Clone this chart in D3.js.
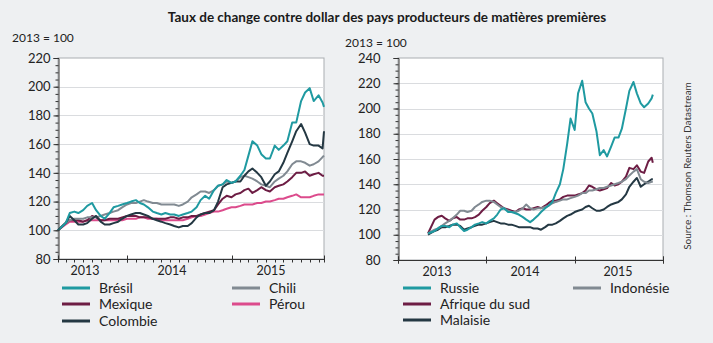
<!DOCTYPE html>
<html>
<head>
<meta charset="utf-8">
<script src="https://cdn.jsdelivr.net/npm/d3@7"></script>
<style>
  body { margin: 0; background: #eef0f2; }
  svg { display: block; font-family: Lato, "Open Sans", sans-serif; }
</style>
</head>
<body>
<svg id="vis" width="713" height="343"></svg>
<script>
// dates shared by both panels (roughly semi-monthly)
const dates = [
  "2013-05-05","2013-06-01","2013-06-15","2013-07-01","2013-07-15","2013-08-01","2013-08-15","2013-09-01","2013-09-15","2013-10-01","2013-10-15","2013-11-01","2013-11-15","2013-12-01","2013-12-15",
  "2014-01-01","2014-01-15","2014-02-01","2014-02-15","2014-03-01","2014-03-15","2014-04-01","2014-04-15","2014-05-01","2014-05-15","2014-06-01","2014-06-15","2014-07-01","2014-07-15","2014-08-01","2014-08-15","2014-09-01","2014-09-15","2014-10-01","2014-10-15","2014-11-01","2014-11-15","2014-12-01","2014-12-15",
  "2015-01-01","2015-01-15","2015-02-01","2015-02-15","2015-03-01","2015-03-15","2015-04-01","2015-04-15","2015-05-01","2015-05-15","2015-06-01","2015-06-15","2015-07-01","2015-07-15","2015-08-01","2015-08-15","2015-09-01","2015-09-15","2015-10-01","2015-10-15","2015-11-01","2015-11-15","2015-11-20"
];

// left panel
const bresil = [
  100,105,112,113,112,114,117,119,114,110,108,112,116,117,118,
  119,120,121,119,118,116,113,112,111,112,111,111,110,111,112,113,116,121,124,122,128,131,132,135,
  133,134,138,142,152,162,159,153,150,150,159,156,159,162,175,175,190,196,199,190,194,189,186
];
const chili = [
  100,105,107,108,108,108,109,109,109,110,111,112,113,114,116,
  118,119,119,120,121,120,119,119,118,118,118,118,117,118,120,123,125,127,127,126,128,131,132,134,
  133,134,137,138,137,136,134,132,131,130,134,136,138,141,146,148,148,147,145,146,148,151,152
];
const mexique = [
  100,105,107,107,107,106,107,110,109,107,107,108,108,108,109,
  110,110,110,109,109,109,108,108,108,108,109,109,108,109,109,110,110,111,112,113,114,118,122,124,
  123,125,126,128,129,126,128,130,128,127,130,131,132,134,137,140,140,141,138,139,140,138,138
];
const perou = [
  100,104,106,106,106,106,107,107,107,107,107,107,107,107,107,
  108,108,108,109,109,108,108,108,107,107,107,107,107,107,108,109,110,110,111,112,113,113,114,115,
  116,116,117,118,118,118,119,119,120,120,121,122,122,123,124,125,123,123,123,124,125,125,125
];
const colombie = [
  100,105,110,107,104,104,105,108,110,106,104,104,105,106,108,
  110,111,112,112,111,110,108,107,106,105,104,103,102,103,103,105,109,111,112,112,114,120,130,132,
  133,134,134,138,141,143,140,137,131,134,139,141,147,154,162,169,174,168,160,159,159,157,169
];

// right panel
const russie = [
  101,103,105,107,107,106,108,109,106,103,104,106,108,109,110,
  109,111,113,116,120,121,118,118,117,116,114,112,110,112,115,118,121,123,126,133,140,152,172,192,
  183,212,222,205,200,196,182,163,167,162,170,177,177,184,200,214,221,212,204,201,204,208,211
];
const indonesie = [
  101,104,105,107,109,111,113,116,119,119,118,119,122,124,126,
  127,127,126,124,122,121,119,118,118,119,121,124,121,120,121,121,122,123,125,126,127,128,128,129,
  130,131,133,133,135,135,136,137,137,138,139,140,141,142,144,147,150,152,144,142,141,142,142
];
const afriqueDuSud = [
  101,112,114,115,113,111,113,114,112,112,113,113,114,116,119,
  122,125,127,125,123,121,120,119,118,120,121,120,120,121,122,121,123,125,127,127,128,130,131,131,
  131,132,133,135,139,138,136,135,136,137,141,139,140,142,146,153,152,155,150,149,158,161,157
];
const malaisie = [
  100,103,104,106,106,107,108,108,107,104,105,106,107,108,108,
  109,110,111,110,109,109,108,108,107,106,106,106,106,105,105,104,106,108,108,109,111,113,115,116,
  118,119,120,122,123,121,119,119,120,122,124,125,126,128,132,138,142,145,138,140,142,144,144
];

const yearLabels = ["2013", "2014", "2015"];

const colors = {
  teal: "#1f9aa1",
  maroon: "#6d1d44",
  dark: "#243843",
  grey: "#818a92",
  pink: "#dc4b8c"
};

const parse = d3.timeParse("%Y-%m-%d");
const time = dates.map(parse);

const svg = d3.select("#vis");

svg.append("text")
  .attr("x", 387).attr("y", 22)
  .attr("text-anchor", "middle")
  .attr("font-size", 13.5).attr("font-weight", "bold")
  .attr("fill", "#1a1a1a")
  .text("Taux de change contre dollar des pays producteurs de matières premières");

function panel(opt) {
  const g = svg.append("g");

  const x = d3.scaleTime().domain(opt.xDomain).range([opt.left, opt.right]);
  const y = d3.scaleLinear().domain(opt.yDomain).range([opt.bottom, opt.top]);

  // plot background + frame
  g.append("rect")
    .attr("x", opt.left).attr("y", opt.top)
    .attr("width", opt.right - opt.left).attr("height", opt.bottom - opt.top)
    .attr("fill", "#fff").attr("stroke", "#a9adb1").attr("stroke-width", 1);

  // grid
  const gridVals = d3.range(opt.yDomain[0] + 20, opt.yDomain[1], 20);
  g.selectAll(".grid")
    .data(gridVals)
    .join("line")
    .attr("x1", opt.left).attr("x2", opt.right)
    .attr("y1", d => Math.round(y(d)) + 0.5).attr("y2", d => Math.round(y(d)) + 0.5)
    .attr("stroke", "#dadcdf").attr("stroke-width", 1);

  // series
  const line = d3.line()
    .x((d, i) => x(time[i]))
    .y(d => y(d));

  opt.series.forEach(s => {
    g.append("path")
      .datum(s.values)
      .attr("fill", "none")
      .attr("stroke", s.color)
      .attr("stroke-width", 2)
      .attr("stroke-linejoin", "round")
      .attr("d", line);
  });

  // y axis with minor ticks
  const yMinor = d3.axisLeft(y).tickValues(d3.range(opt.yDomain[0], opt.yDomain[1] + 1, 5))
    .tickSize(3).tickFormat("");
  g.append("g").attr("transform", `translate(${opt.left + 0.5},0)`).call(yMinor)
    .call(a => a.select(".domain").remove())
    .selectAll("line").attr("stroke", "#333");

  const yAxis = d3.axisLeft(y).tickValues(d3.range(opt.yDomain[0], opt.yDomain[1] + 1, 20))
    .tickSize(5).tickPadding(opt.pad);
  const ya = g.append("g").attr("transform", `translate(${opt.left + 0.5},0)`).call(yAxis);
  ya.select(".domain").attr("stroke", "#333");
  ya.selectAll("line").attr("stroke", "#333");
  ya.selectAll("text").attr("font-size", 13).attr("fill", "#222").attr("font-family", "Lato, sans-serif");

  // x axis
  const years = [parse("2013-01-01"), parse("2014-01-01"), parse("2015-01-01"), parse("2016-01-01")]
    .filter(d => d >= opt.xDomain[0] && d <= opt.xDomain[1]);
  const xa = g.append("g").attr("transform", `translate(0,${opt.bottom + 0.5})`);
  xa.append("line").attr("x1", opt.left).attr("x2", opt.right).attr("stroke", "#333");
  if (opt.monthly) {
    const months = d3.timeMonth.range(opt.xDomain[0], opt.xDomain[1]);
    xa.selectAll(".mt").data(months).join("line")
      .attr("x1", d => Math.round(x(d)) + 0.5).attr("x2", d => Math.round(x(d)) + 0.5)
      .attr("y1", 0).attr("y2", 3).attr("stroke", "#333");
  }
  xa.selectAll(".yt").data(years.concat([opt.xDomain[0], opt.xDomain[1]])).join("line")
    .attr("x1", d => Math.round(x(d)) + 0.5).attr("x2", d => Math.round(x(d)) + 0.5)
    .attr("y1", -4).attr("y2", 3).attr("stroke", "#333");

  xa.selectAll(".yl").data(yearLabels).join("text")
    .attr("x", (d, i) => opt.labelX[i])
    .attr("y", 15.5)
    .attr("text-anchor", "middle")
    .attr("font-size", 12.5).attr("fill", "#222")
    .text(d => d);

  // base label
  svg.append("text")
    .attr("x", opt.baseX).attr("y", opt.baseY)
    .attr("font-size", 12).attr("fill", "#222")
    .text("2013 = 100");

  // legend
  opt.legend.forEach(l => {
    svg.append("line")
      .attr("x1", l.x).attr("x2", l.x + 28)
      .attr("y1", l.y).attr("y2", l.y)
      .attr("stroke", l.color).attr("stroke-width", 3);
    svg.append("text")
      .attr("x", l.x + 37).attr("y", l.y + 5)
      .attr("font-size", 14).attr("fill", "#222")
      .text(l.name);
  });
}

panel({
  left: 58, right: 324, top: 58, bottom: 259,
  xDomain: [parse("2013-05-05"), parse("2015-11-20")],
  yDomain: [80, 220],
  monthly: true,
  pad: 3,
  labelX: [85, 172, 271],
  baseX: 12, baseY: 42,
  series: [
    { values: perou, color: colors.pink },
    { values: mexique, color: colors.maroon },
    { values: chili, color: colors.grey },
    { values: colombie, color: colors.dark },
    { values: bresil, color: colors.teal }
  ],
  legend: [
    { name: "Brésil", color: colors.teal, x: 62, y: 288 },
    { name: "Mexique", color: colors.maroon, x: 62, y: 304 },
    { name: "Colombie", color: colors.dark, x: 62, y: 321 },
    { name: "Chili", color: colors.grey, x: 232, y: 288 },
    { name: "Pérou", color: colors.pink, x: 232, y: 304 }
  ]
});

panel({
  left: 398, right: 663, top: 58, bottom: 260,
  xDomain: [parse("2013-01-01"), parse("2016-01-01")],
  yDomain: [80, 240],
  monthly: false,
  pad: 13,
  labelX: [437, 525, 618],
  baseX: 345, baseY: 47,
  series: [
    { values: malaisie, color: colors.dark },
    { values: afriqueDuSud, color: colors.maroon },
    { values: indonesie, color: colors.grey },
    { values: russie, color: colors.teal }
  ],
  legend: [
    { name: "Russie", color: colors.teal, x: 403, y: 288 },
    { name: "Afrique du sud", color: colors.maroon, x: 403, y: 304 },
    { name: "Malaisie", color: colors.dark, x: 403, y: 320 },
    { name: "Indonésie", color: colors.grey, x: 573, y: 288 }
  ]
});

svg.append("text")
  .attr("transform", "translate(691,166) rotate(-90)")
  .attr("text-anchor", "middle")
  .attr("font-size", 10).attr("fill", "#333")
  .text("Source : Thomson Reuters Datastream");
</script>
</body>
</html>
